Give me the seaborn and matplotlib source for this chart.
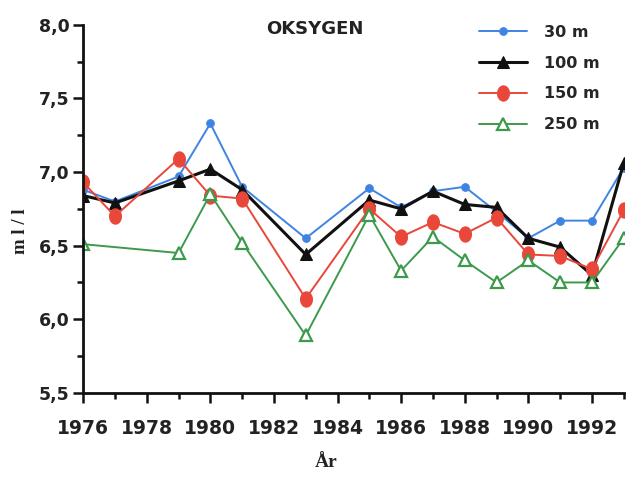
import numpy as np
import pandas as pd
import matplotlib
matplotlib.use("Agg")
import matplotlib.pyplot as plt
from matplotlib.path import Path
from matplotlib.ticker import MultipleLocator, FuncFormatter
import seaborn as sns

# Oxygen (ml/l) per year at four depths
years_30 = [1976, 1977, 1979, 1980, 1981, 1983, 1985, 1986, 1987, 1988, 1989, 1990, 1991, 1992, 1993]
oxy_30 = [6.88, 6.80, 6.97, 7.33, 6.90, 6.55, 6.89, 6.76, 6.87, 6.90, 6.73, 6.55, 6.67, 6.67, 7.03]

years_100 = [1976, 1977, 1979, 1980, 1981, 1983, 1985, 1986, 1987, 1988, 1989, 1990, 1991, 1992, 1993]
oxy_100 = [6.84, 6.79, 6.94, 7.02, 6.88, 6.44, 6.81, 6.75, 6.87, 6.78, 6.76, 6.55, 6.49, 6.30, 7.06]

years_150 = [1976, 1977, 1979, 1980, 1981, 1983, 1985, 1986, 1987, 1988, 1989, 1990, 1991, 1992, 1993]
oxy_150 = [6.93, 6.70, 7.09, 6.84, 6.82, 6.14, 6.75, 6.56, 6.66, 6.58, 6.69, 6.44, 6.43, 6.34, 6.74]

years_250 = [1976, 1979, 1980, 1981, 1983, 1985, 1986, 1987, 1988, 1989, 1990, 1991, 1992, 1993]
oxy_250 = [6.51, 6.45, 6.85, 6.52, 5.89, 6.71, 6.33, 6.56, 6.40, 6.25, 6.40, 6.25, 6.25, 6.55]

depth_labels = ["30 m", "100 m", "150 m", "250 m"]

sns.set_theme(style="ticks")
plt.rcParams["font.family"] = ["DejaVu Sans"]

fig = plt.figure(figsize=(6.3, 4.88), dpi=100)
ax = fig.add_axes([0.132, 0.195, 0.858, 0.754])

# vertically stretched dot for the 150 m series
t = np.linspace(0, 2 * np.pi, 60)
oval = Path(np.column_stack([0.78 * np.cos(t), np.sin(t)]), closed=True)

series = [
    (years_30, oxy_30, depth_labels[0], "#3f84e2", dict(marker="o", markersize=5.5, linewidth=1.4,
                                                        markerfacecolor="#3f84e2", markeredgecolor="#3f84e2")),
    (years_100, oxy_100, depth_labels[1], "#111111", dict(marker="^", markersize=9, linewidth=2.2,
                                                         markerfacecolor="#111111", markeredgecolor="#111111")),
    (years_150, oxy_150, depth_labels[2], "#e8473a", dict(marker=oval, markersize=11, linewidth=1.4,
                                                         markerfacecolor="#e8473a", markeredgecolor="#e8473a")),
    (years_250, oxy_250, depth_labels[3], "#3c9a4c", dict(marker="^", markersize=9, linewidth=1.4,
                                                         markerfacecolor="white", markeredgecolor="#3c9a4c",
                                                         markeredgewidth=1.6)),
]

for yrs, vals, lab, col, kw in series:
    df = pd.DataFrame({"År": yrs, "ml/l": vals})
    sns.lineplot(data=df, x="År", y="ml/l", ax=ax, color=col, label=lab, **kw)

ax.set_xlim(1976, 1993)
ax.set_ylim(5.5, 8.0)
ax.xaxis.set_major_locator(MultipleLocator(2))
ax.xaxis.set_minor_locator(MultipleLocator(1))
ax.yaxis.set_major_locator(MultipleLocator(0.5))
ax.yaxis.set_minor_locator(MultipleLocator(0.25))
ax.yaxis.set_major_formatter(FuncFormatter(lambda v, p: f"{v:.1f}".replace(".", ",")))
ax.xaxis.set_major_formatter(FuncFormatter(lambda v, p: f"{int(v)}" if v <= 1992 else ""))

for side in ["top", "right"]:
    ax.spines[side].set_visible(False)
for side in ["left", "bottom"]:
    ax.spines[side].set_linewidth(2.0)
    ax.spines[side].set_color("#111111")

ax.tick_params(axis="both", which="major", length=7, width=1.8, color="#111111")
ax.tick_params(axis="both", which="minor", length=4, width=1.8, color="#111111")
ax.tick_params(axis="x", which="major", labelsize=13.5, pad=12)
ax.tick_params(axis="y", which="major", labelsize=12.5, pad=3)
for lab in ax.get_xticklabels() + ax.get_yticklabels():
    lab.set_fontweight("bold")
    lab.set_color("#222222")

ax.set_xlabel("År", fontsize=14, fontweight="bold", family="Liberation Serif", color="#222222")
ax.set_ylabel("m l / l", fontsize=13.5, fontweight="bold", family="Liberation Serif", color="#222222")
ax.xaxis.set_label_coords(0.449, -0.165)
ax.yaxis.set_label_coords(-0.10, 0.44)

fig.text(0.5, 0.94, "OKSYGEN", ha="center", va="center", fontsize=13, fontweight="bold",
         family="Liberation Sans Narrow", color="#222222")

leg = ax.legend(loc="upper left", bbox_to_anchor=(0.705, 1.04), frameon=False,
                handlelength=3.0, labelspacing=1.0, handletextpad=1.1,
                prop={"weight": "bold", "size": 11.5, "family": "Liberation Sans Narrow"})

fig.savefig("out.png", dpi=100, facecolor="white")
